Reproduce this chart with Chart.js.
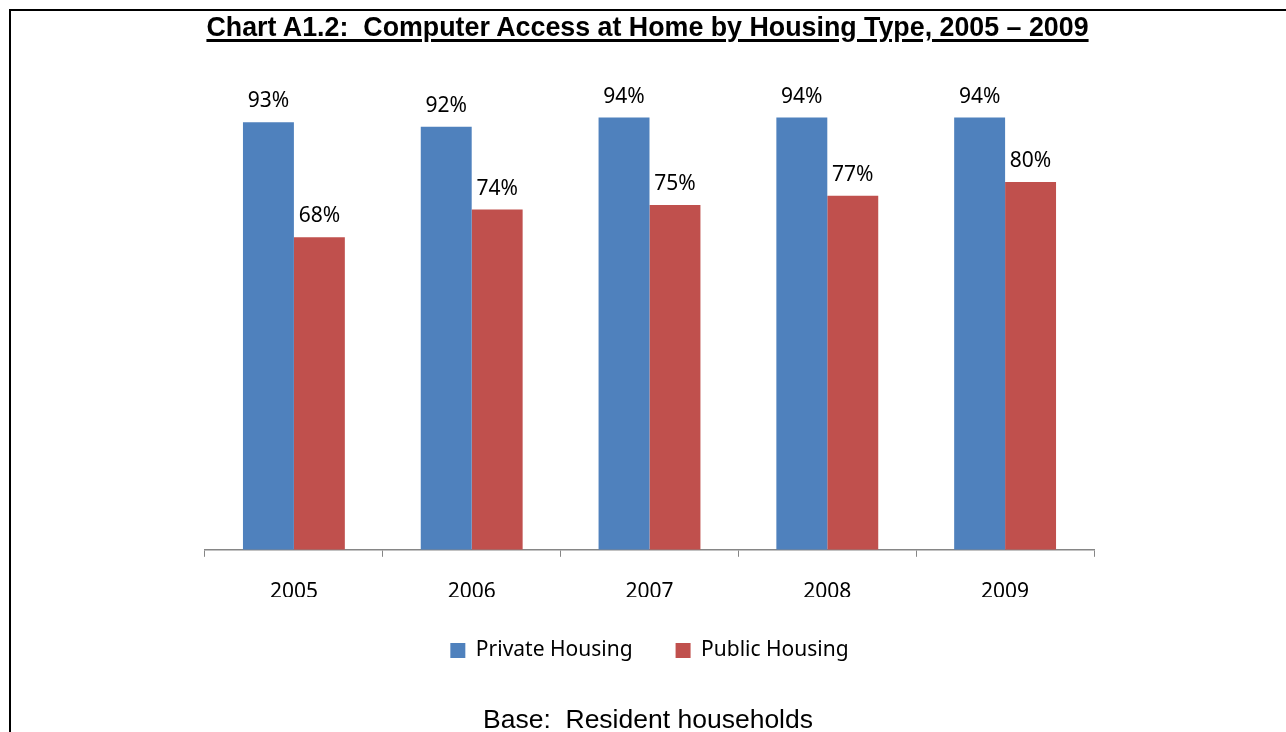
<!DOCTYPE html>
<html lang="en">
<head>
    <meta charset="UTF-8">
    <title>Chart A1.2</title>
    <script src="https://cdn.jsdelivr.net/npm/chart.js"></script>
    <style>
        body {
            margin: 0;
            background: #fff;
            font-family: "Liberation Sans", Arial, sans-serif;
        }
        .frame {
            position: relative;
            width: 1286px;
            height: 732px;
            overflow: hidden;
        }
        .border {
            position: absolute;
            left: 9px;
            top: 9px;
            right: -10px;
            bottom: -10px;
            border-top: 2px solid #000;
            border-left: 2px solid #000;
        }
        .title {
            position: absolute;
            left: 0;
            width: 1295px;
            top: 12px;
            text-align: center;
            font-weight: bold;
            font-size: 26.8px;
            text-decoration: underline;
            text-decoration-thickness: 3px;
            text-underline-offset: 3px;
            white-space: pre;
            color: #000;
        }
        .base {
            position: absolute;
            left: 0;
            width: 1296px;
            top: 704px;
            text-align: center;
            font-size: 26.5px;
            white-space: pre;
            color: #000;
        }
        #chart {
            position: absolute;
            left: 0;
            top: 0;
        }
    </style>
</head>
<body>
<div class="frame">
    <div class="border"></div>
    <canvas id="chart" width="1286" height="732"></canvas>
    <div class="title">Chart A1.2:  Computer Access at Home by Housing Type, 2005 – 2009</div>
    <div class="base">Base:  Resident households</div>
</div>

<script>
// chart data
const years = ['2005', '2006', '2007', '2008', '2009'];
const privateHousing = [93, 92, 94, 94, 94];
const publicHousing = [68, 74, 75, 77, 80];
const seriesNames = ['Private Housing', 'Public Housing'];

const labelFont = '"Noto Sans", "Open Sans", sans-serif';

// draws the % labels above each bar
const valueLabels = {
    id: 'valueLabels',
    afterDatasetsDraw(chart) {
        const ctx = chart.ctx;
        ctx.save();
        ctx.font = '21px ' + labelFont;
        ctx.fillStyle = '#000';
        ctx.textAlign = 'center';
        ctx.textBaseline = 'alphabetic';
        chart.data.datasets.forEach((ds, i) => {
            chart.getDatasetMeta(i).data.forEach((bar, j) => {
                ctx.fillText(ds.data[j] + '%', bar.x, bar.y - 15);
            });
        });
        ctx.restore();
    }
};

new Chart(document.getElementById('chart'), {
    type: 'bar',
    data: {
        labels: years,
        datasets: [{
            label: seriesNames[0],
            data: privateHousing,
            backgroundColor: '#4F81BD'
        }, {
            label: seriesNames[1],
            data: publicHousing,
            backgroundColor: '#C0504D'
        }]
    },
    options: {
        responsive: false,
        animation: false,
        layout: {
            padding: { left: 205, right: 192, top: 90, bottom: 61 }
        },
        datasets: {
            bar: { categoryPercentage: 0.573, barPercentage: 1.0 }
        },
        scales: {
            y: {
                display: false,
                min: 0,
                max: 100
            },
            x: {
                afterFit(scale) {
                    // pull the legend up closer to the axis labels
                    scale.height -= 31;
                },
                grid: {
                    offset: true,
                    drawOnChartArea: false,
                    tickLength: 7,
                    color: '#868686'
                },
                border: { color: '#868686', width: 1.5 },
                ticks: {
                    color: '#000',
                    padding: 23,
                    font: { family: labelFont, size: 21 }
                }
            }
        },
        plugins: {
            legend: {
                position: 'bottom',
                labels: {
                    boxWidth: 15,
                    boxHeight: 15,
                    padding: 43,
                    color: '#000',
                    font: { family: labelFont, size: 21 }
                }
            },
            tooltip: { enabled: false }
        }
    },
    plugins: [valueLabels]
});
</script>
</body>
</html>
